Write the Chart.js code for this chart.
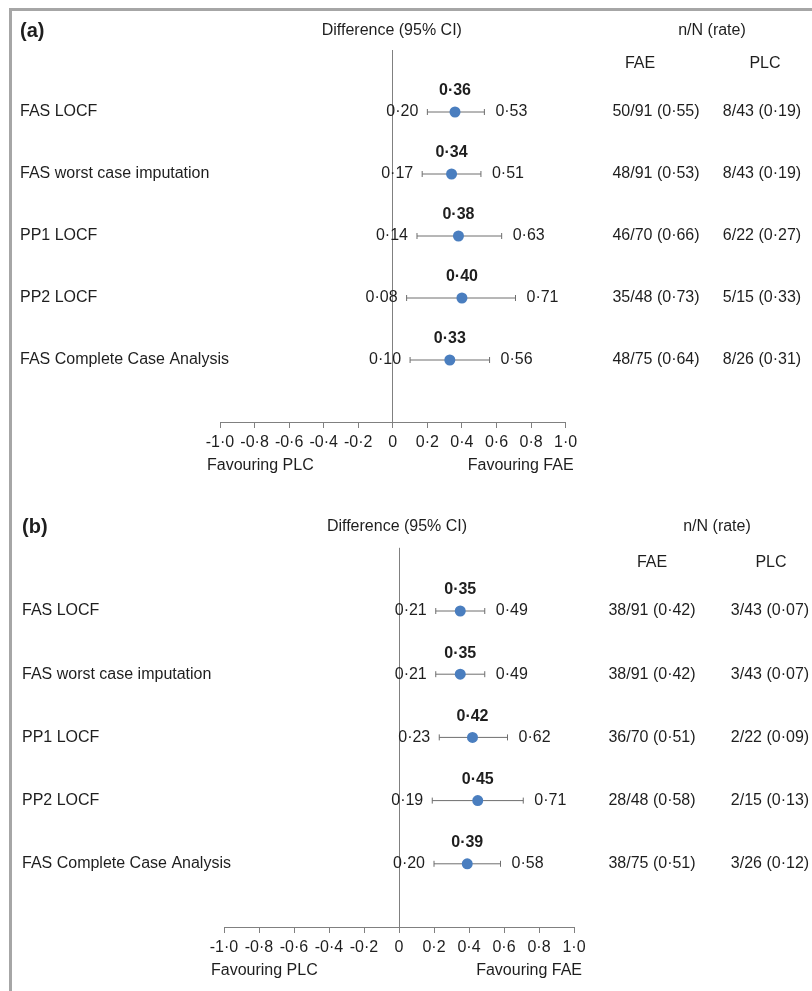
<!DOCTYPE html>
<html>
<head>
<meta charset="utf-8">
<script src="https://cdn.jsdelivr.net/npm/chart.js@4.4.1/dist/chart.umd.min.js"></script>
<style>
  html, body { margin: 0; padding: 0; background: #ffffff; }
  body { width: 812px; height: 991px; position: relative; overflow: hidden; }
  #frame { position: absolute; left: 9px; top: 8px; right: -10px; bottom: -10px;
           border-top: 3px solid #a6a6a6; border-left: 3px solid #a6a6a6; }
  .panel { position: absolute; left: 0; width: 812px; }
  #pa { top: 0; height: 495px; }
  #pb { top: 495px; height: 496px; }
</style>
</head>
<body>
<div id="frame"></div>
<div class="panel" id="pa"><canvas id="ca" width="812" height="495"></canvas></div>
<div class="panel" id="pb"><canvas id="cb" width="812" height="496"></canvas></div>
<script>
// ---------- data ----------
const categories = ['FAS LOCF', 'FAS worst case imputation', 'PP1 LOCF', 'PP2 LOCF', 'FAS Complete Case Analysis'];
const xTickValues = [-1.0, -0.8, -0.6, -0.4, -0.2, 0, 0.2, 0.4, 0.6, 0.8, 1.0];

const diffA  = [0.36, 0.34, 0.38, 0.40, 0.33];
const lowerA = [0.20, 0.17, 0.14, 0.08, 0.10];
const upperA = [0.53, 0.51, 0.63, 0.71, 0.56];
const faeA   = ['50/91 (0·55)', '48/91 (0·53)', '46/70 (0·66)', '35/48 (0·73)', '48/75 (0·64)'];
const plcA   = ['8/43 (0·19)', '8/43 (0·19)', '6/22 (0·27)', '5/15 (0·33)', '8/26 (0·31)'];

const diffB  = [0.35, 0.35, 0.42, 0.45, 0.39];
const lowerB = [0.21, 0.21, 0.23, 0.19, 0.20];
const upperB = [0.49, 0.49, 0.62, 0.71, 0.58];
const faeB   = ['38/91 (0·42)', '38/91 (0·42)', '36/70 (0·51)', '28/48 (0·58)', '38/75 (0·51)'];
const plcB   = ['3/43 (0·07)', '3/43 (0·07)', '2/22 (0·09)', '2/15 (0·13)', '3/26 (0·12)'];

const panelTitles = ['(a)', '(b)'];
const headerDiff = 'Difference (95% CI)';
const headerRate = 'n/N (rate)';
const headerFAE = 'FAE';
const headerPLC = 'PLC';
const favLeft = 'Favouring PLC';
const favRight = 'Favouring FAE';

// ---------- helpers ----------
const FONT = "'Liberation Sans', Arial, sans-serif";
const TEXT = '#1e1e1e';
function fmt1(v) { return Math.abs(v) < 1e-9 ? '0' : v.toFixed(1).replace('.', '\u00B7'); }
function fmt2(v) { return v.toFixed(2).replace('.', '\u00B7'); }

function buildChart(canvasId, d, L) {
  const pointData = d.diff.map((v, i) => ({ x: v, y: i }));
  const datasets = [{
    label: 'estimate',
    data: pointData,
    pointRadius: 5.5,
    pointHoverRadius: 5.5,
    pointBackgroundColor: '#4a7ebf',
    pointBorderColor: '#4a7ebf',
    pointBorderWidth: 0,
    showLine: false
  }];
  d.lower.forEach((lo, i) => {
    datasets.push({
      label: 'ci' + i,
      data: [{ x: lo, y: i }, { x: d.upper[i], y: i }],
      showLine: true,
      borderColor: '#6e6e6e',
      borderWidth: 1,
      pointStyle: 'line',
      pointRotation: 90,
      pointRadius: 3,
      pointHoverRadius: 3,
      pointBorderColor: '#6e6e6e',
      pointBorderWidth: 1
    });
  });

  const textPlugin = {
    id: 'forestText',
    afterDraw(chart) {
      const ctx = chart.ctx;
      const xs = chart.scales.x, ys = chart.scales.y;
      ctx.save();
      ctx.fillStyle = TEXT;
      ctx.textBaseline = 'middle';
      ctx.font = 'bold 20px ' + FONT;
      ctx.textAlign = 'left';
      ctx.fillText(d.title, L.titleX, L.headerY);
      ctx.font = '16px ' + FONT;
      ctx.textAlign = 'center';
      ctx.fillText(headerDiff, xs.getPixelForValue(0) + L.diffHeaderDx, L.headerY);
      ctx.fillText(headerRate, L.rateX, L.headerY);
      ctx.fillText(headerFAE, L.faeHeadX, L.subHeaderY);
      ctx.fillText(headerPLC, L.plcHeadX, L.subHeaderY);
      categories.forEach((cat, i) => {
        const y = ys.getPixelForValue(i);
        ctx.font = '16px ' + FONT;
        ctx.textAlign = 'left';
        ctx.fillText(cat, L.titleX, y);
        ctx.textAlign = 'right';
        ctx.fillText(fmt2(d.lower[i]), xs.getPixelForValue(d.lower[i]) - 9, y);
        ctx.textAlign = 'left';
        ctx.fillText(fmt2(d.upper[i]), xs.getPixelForValue(d.upper[i]) + 11, y);
        ctx.textAlign = 'center';
        ctx.fillText(d.fae[i], L.faeX, y);
        ctx.fillText(d.plc[i], L.plcX, y);
        ctx.font = 'bold 16px ' + FONT;
        ctx.fillText(fmt2(d.diff[i]), xs.getPixelForValue(d.diff[i]), y - 21);
      });
      ctx.font = '16px ' + FONT;
      const fy = xs.top + 44;
      ctx.textAlign = 'left';
      ctx.fillText(favLeft, xs.getPixelForValue(-1) - 13, fy);
      ctx.textAlign = 'right';
      ctx.fillText(favRight, xs.getPixelForValue(1) + 8, fy);
      ctx.restore();
    }
  };

  return new Chart(document.getElementById(canvasId), {
    type: 'scatter',
    data: { datasets },
    options: {
      responsive: false,
      animation: false,
      events: [],
      layout: { padding: L.padding },
      plugins: { legend: { display: false }, tooltip: { enabled: false } },
      scales: {
        x: {
          type: 'linear',
          min: -1, max: 1,
          afterBuildTicks: (scale) => { scale.ticks = xTickValues.map(v => ({ value: v })); },
          afterFit: (scale) => { scale.height = 60; },
          grid: {
            display: true,
            drawOnChartArea: true,
            drawTicks: true,
            tickLength: 6,
            tickColor: '#808080',
            lineWidth: 1,
            color: (c) => (c.tick && Math.abs(c.tick.value) < 1e-9) ? '#808080' : 'rgba(0,0,0,0)'
          },
          border: { display: true, color: '#808080', width: 1 },
          ticks: {
            padding: 5,
            maxRotation: 0,
            autoSkip: false,
            color: TEXT,
            font: { family: FONT, size: 16 },
            callback: (v) => fmt1(v)
          }
        },
        y: {
          type: 'linear',
          display: false,
          reverse: true,
          min: -1, max: 5
        }
      }
    },
    plugins: [textPlugin]
  });
}

buildChart('ca',
  { title: panelTitles[0], diff: diffA, lower: lowerA, upper: upperA, fae: faeA, plc: plcA },
  { padding: { left: 220, right: 246.4, top: 50, bottom: 13 },
    titleX: 20, headerY: 31, subHeaderY: 64, diffHeaderDx: -1,
    rateX: 712, faeHeadX: 640, plcHeadX: 765, faeX: 656, plcX: 762 });

buildChart('cb',
  { title: panelTitles[1], diff: diffB, lower: lowerB, upper: upperB, fae: faeB, plc: plcB },
  { padding: { left: 224, right: 238, top: 52.8, bottom: 4 },
    titleX: 22, headerY: 32, subHeaderY: 68, diffHeaderDx: -2,
    rateX: 717, faeHeadX: 652, plcHeadX: 771, faeX: 652, plcX: 770 });
</script>
</body>
</html>
